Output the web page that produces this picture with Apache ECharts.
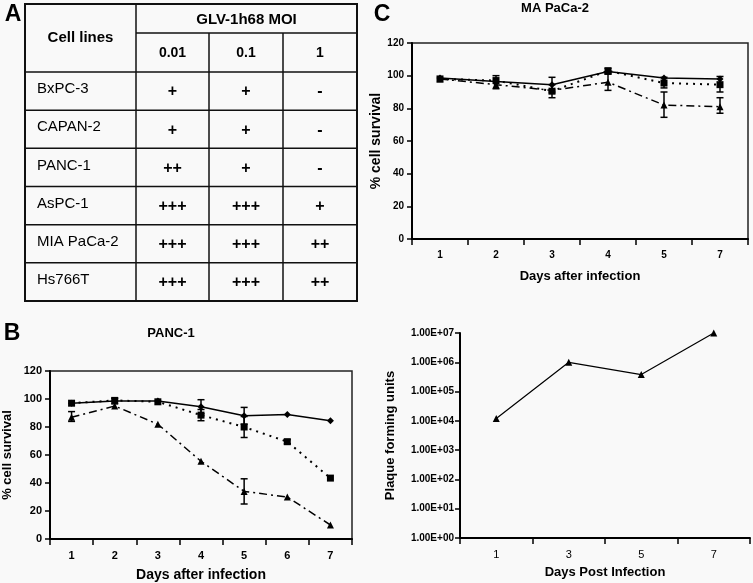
<!DOCTYPE html>
<html>
<head>
<meta charset="utf-8">
<script src="https://cdn.jsdelivr.net/npm/echarts@6/dist/echarts.min.js"></script>
<style>
html,body{margin:0;padding:0;background:#f9f9f9;}
#chart{width:753px;height:583px;}
</style>
</head>
<body>
<div id="chart"></div>
<script>
// ---------- Panel A: table ----------
const cellLines = ['BxPC-3', 'CAPAN-2', 'PANC-1', 'AsPC-1', 'MIA PaCa-2', 'Hs766T'];
const moiLevels = ['0.01', '0.1', '1'];
const lysisScores = [
  ['+', '+', '-'],
  ['+', '+', '-'],
  ['++', '+', '-'],
  ['+++', '+++', '+'],
  ['+++', '+++', '++'],
  ['+++', '+++', '++']
];

// ---------- Panel B: PANC-1 ----------
const daysB = ['1', '2', '3', '4', '5', '6', '7'];
const survB_moi001 = [97, 98.5, 98.5, 94.5, 88, 89, 84.5];
const survB_moi01 = [97, 99, 98, 88.5, 80, 69.5, 43.5];
const survB_moi1 = [87, 95, 82, 55.5, 34, 30, 10];
// error bars: [day index, low, high]
const errB = [
  [0, 84, 91], [1, 96.5, 100.5], [3, 89.5, 99.5], [3, 84.5, 92.5],
  [4, 82, 94], [4, 72.5, 87.5], [4, 25, 43], [5, 68, 71]
];

// ---------- Panel C: MIA PaCa-2 ----------
const daysC = ['1', '2', '3', '4', '5', '7'];
const survC_moi001 = [98.5, 96.5, 94.5, 102.5, 98.5, 98];
const survC_moi01 = [98, 97, 90.5, 103, 95.5, 94.5];
const survC_moi1 = [98, 94.5, 91, 96, 82, 81];
const errC = [
  [1, 92, 100], [2, 90, 99], [2, 86.5, 94.5], [3, 91, 101], [3, 101, 104.5],
  [4, 74.5, 90], [4, 92.5, 99], [5, 90, 99.5], [5, 77, 86.5]
];

// ---------- Panel D: plaque forming units ----------
const daysD = ['1', '3', '5', '7'];
const pfuD = [12000, 1000000, 380000, 10000000];

const FONT = '"Liberation Sans", Arial, Helvetica, sans-serif';

// ---------- build table graphics ----------
const colX = [25, 136, 209, 283, 357];
const tTop = 4, tMid = 33, tHead = 72, tBottom = 301;
const rowH = (tBottom - tHead) / cellLines.length;
const g = [];
function hline(x1, x2, y, w) { g.push({type:'line', shape:{x1:x1, y1:y, x2:x2, y2:y}, style:{stroke:'#111', lineWidth:w}}); }
function vline(x, y1, y2, w) { g.push({type:'line', shape:{x1:x, y1:y1, x2:x, y2:y2}, style:{stroke:'#111', lineWidth:w}}); }
function txt(s, x, y, size, weight, align) {
  g.push({type:'text', x:x, y:y, style:{text:s, fill:'#000', font: weight + ' ' + size + 'px ' + FONT, textAlign: align || 'center', textVerticalAlign:'middle'}});
}
// outer border
hline(colX[0] - 1, colX[4] + 1, tTop, 2);
hline(colX[0] - 1, colX[4] + 1, tBottom, 2);
vline(colX[0], tTop, tBottom, 2);
vline(colX[4], tTop, tBottom, 2);
// inner lines
hline(colX[1], colX[4], tMid, 1.5);
hline(colX[0], colX[4], tHead, 1.5);
for (let i = 1; i < cellLines.length; i++) hline(colX[0], colX[4], tHead + i * rowH, 1.5);
vline(colX[1], tTop, tBottom, 1.5);
vline(colX[2], tMid, tBottom, 1.5);
vline(colX[3], tMid, tBottom, 1.5);
// header texts
txt('Cell lines', (colX[0] + colX[1]) / 2, (tTop + tHead) / 2, 15, 'bold');
txt('GLV-1h68 MOI', (colX[1] + colX[4]) / 2, (tTop + tMid) / 2 + 1, 15, 'bold');
moiLevels.forEach((m, j) => txt(m, (colX[j + 1] + colX[j + 2]) / 2, (tMid + tHead) / 2 + 1, 14, 'bold'));
cellLines.forEach((c, i) => {
  const cy = tHead + i * rowH + rowH / 2;
  txt(c, colX[0] + 12, cy - 2, 15, 'normal', 'left');
  lysisScores[i].forEach((s, j) => txt(s, (colX[j + 1] + colX[j + 2]) / 2, cy + 1, 16, 'bold'));
});
// panel letters and titles
txt('A', 13, 15, 23, 'bold');
txt('B', 12, 334, 23, 'bold');
txt('C', 382, 15, 23, 'bold');
txt('PANC-1', 171, 333, 13, 'bold');
txt('MA PaCa-2', 555, 8, 13, 'bold');

// ---------- helpers ----------
function errRender(params, api) {
  const x = api.value(0), lo = api.value(1), hi = api.value(2);
  const p1 = api.coord([x, lo]), p2 = api.coord([x, hi]);
  const w = 3.5;
  const st = {stroke:'#000', lineWidth:1.5};
  return {type:'group', children:[
    {type:'line', shape:{x1:p1[0], y1:p1[1], x2:p2[0], y2:p2[1]}, style:st},
    {type:'line', shape:{x1:p1[0] - w, y1:p1[1], x2:p1[0] + w, y2:p1[1]}, style:st},
    {type:'line', shape:{x1:p2[0] - w, y1:p2[1], x2:p2[0] + w, y2:p2[1]}, style:st}
  ]};
}
const axisLineStyle = {show:true, lineStyle:{color:'#000', width:2}};
function catAxis(idx, data, name, gap, nameSize, labelSize, labelWeight) {
  return {
    type:'category', gridIndex:idx, data:data, boundaryGap:true,
    name:name, nameLocation:'middle', nameGap:gap,
    nameTextStyle:{fontFamily:FONT, fontWeight:'bold', fontSize:nameSize, color:'#000'},
    axisLine:axisLineStyle,
    axisTick:{show:true, alignWithLabel:false, length:6, lineStyle:{color:'#000', width:1.5}},
    axisLabel:{fontFamily:FONT, fontWeight:labelWeight, fontSize:labelSize, color:'#000', margin:11},
    splitLine:{show:false}
  };
}
function valAxis(idx, name, gap, nameSize, labelSize) {
  return {
    type:'value', gridIndex:idx, min:0, max:120, interval:20,
    name:name, nameLocation:'middle', nameGap:gap,
    nameTextStyle:{fontFamily:FONT, fontWeight:'bold', fontSize:nameSize, color:'#000'},
    axisLine:axisLineStyle,
    axisTick:{show:true, length:5, lineStyle:{color:'#000', width:1.5}},
    axisLabel:{fontFamily:FONT, fontWeight:'bold', fontSize:labelSize, color:'#000', margin:8},
    splitLine:{show:false}
  };
}
function lineSeries(name, xi, data, symbol, size, type, width) {
  return {
    name:name, type:'line', xAxisIndex:xi, yAxisIndex:xi, data:data,
    symbol:symbol, symbolSize:size, showSymbol:true,
    itemStyle:{color:'#000'},
    lineStyle:{color:'#000', width:width, type:type},
    animation:false, z:3
  };
}
const dotted = [2, 5];
const dashDot = [8, 4, 2, 4];

const option = {
  backgroundColor:'#f9f9f9',
  animation:false,
  graphic:g,
  grid:[
    {left:50, top:371, width:302, height:168, show:true, borderColor:'#222', borderWidth:1.5, backgroundColor:'transparent'},
    {left:412, top:43, width:336, height:196, show:true, borderColor:'#222', borderWidth:1.5, backgroundColor:'transparent'},
    {left:460, top:333, width:290, height:205}
  ],
  xAxis:[
    catAxis(0, daysB, 'Days after infection', 29, 14, 11, 'bold'),
    catAxis(1, daysC, 'Days after infection', 31, 13, 10, 'bold'),
    catAxis(2, daysD, 'Days Post Infection', 28, 13, 11, 'normal')
  ],
  yAxis:[
    valAxis(0, '% cell survival', 36, 13, 11),
    valAxis(1, '% cell survival', 24, 14, 10),
    {
      type:'log', gridIndex:2, logBase:10, min:1, max:10000000, interval:1,
      name:'Plaque forming units', nameLocation:'middle', nameGap:63,
      nameTextStyle:{fontFamily:FONT, fontWeight:'bold', fontSize:13, color:'#000'},
      axisLine:axisLineStyle,
      axisTick:{show:true, length:5, lineStyle:{color:'#000', width:1.5}},
      axisLabel:{fontFamily:FONT, fontWeight:'bold', fontSize:10, color:'#000', margin:6,
        formatter:function(v){ const e = Math.round(Math.log10(v)); return '1.00E+' + (e < 10 ? '0' : '') + e; }},
      splitLine:{show:false}
    }
  ],
  series:[
    lineSeries('MOI 0.01', 0, survB_moi001, 'diamond', 7, 'solid', 1.5),
    lineSeries('MOI 0.1', 0, survB_moi01, 'rect', 7, dotted, 2),
    lineSeries('MOI 1', 0, survB_moi1, 'triangle', 7, dashDot, 1.5),
    {type:'custom', xAxisIndex:0, yAxisIndex:0, data:errB, renderItem:errRender, encode:{x:0, y:[1, 2]}, z:4, animation:false},
    lineSeries('MOI 0.01', 1, survC_moi001, 'diamond', 7, 'solid', 1.5),
    lineSeries('MOI 0.1', 1, survC_moi01, 'rect', 7, dotted, 2),
    lineSeries('MOI 1', 1, survC_moi1, 'triangle', 7, dashDot, 1.5),
    {type:'custom', xAxisIndex:1, yAxisIndex:1, data:errC, renderItem:errRender, encode:{x:0, y:[1, 2]}, z:4, animation:false},
    lineSeries('PFU', 2, pfuD, 'triangle', 7, 'solid', 1.2)
  ]
};
const chart = echarts.init(document.getElementById('chart'), null, {renderer:'canvas'});
chart.setOption(option);
</script>
</body>
</html>
